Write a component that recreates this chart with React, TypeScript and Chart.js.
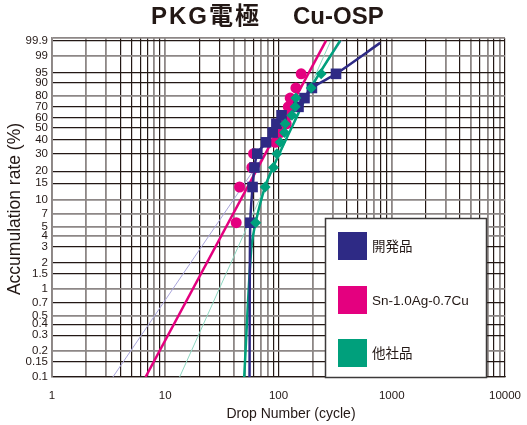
import { useEffect, useRef } from 'react';
import { Chart, registerables } from 'chart.js';

Chart.register(...registerables);

// ---------- text ----------
const titleLeft = 'PKG電極';
const titleRight = 'Cu-OSP';
const xAxisTitle = 'Drop Number (cycle)';
const yAxisTitle = 'Accumulation rate (%)';
const seriesNames = ['開発品', 'Sn-1.0Ag-0.7Cu', '他社品'];

// ---------- axes ----------
const yTickPercents = [0.1, 0.15, 0.2, 0.3, 0.4, 0.5, 0.7, 1, 1.5, 2, 3, 4, 5, 7, 10, 15, 20, 30, 40, 50, 60, 70, 80, 90, 95, 99, 99.9];
const yTickLabels = ['0.1', '0.15', '0.2', '0.3', '0.4', '0.5', '0.7', '1', '1.5', '2', '3', '4', '5', '7', '10', '15', '20', '30', '40', '50', '60', '70', '80', '90', '95', '99', '99.9'];
const xTickLabels = ['1', '10', '100', '1000', '10000'];

// ---------- data (cycles vs. cumulative %) ----------
const rankPercents = [5.6, 13.7, 21.8, 29.8, 37.9, 46.0, 54.0, 62.1, 70.2, 78.2, 86.3, 94.4];
const devCycles = [56.3, 59.0, 61.4, 65.0, 77.6, 88.8, 95.8, 106.4, 150.2, 169.6, 197.2, 322];
const snCycles = [42.3, 45.3, 58.2, 60.2, 93.5, 103.5, 116.9, 120.1, 122.0, 126.9, 142.4, 158.6];
const otherCycles = [62.9, 76.2, 90.2, 96.8, 103.5, 113.0, 114.6, 131.3, 140.4, 142.4, 194.4, 238.2];

const devCurveCycles = [55.5, 56.3, 59.0, 61.4, 65.0, 77.6, 88.8, 95.8, 106.4, 150.2, 169.6, 197.2, 322, 790];
const devCurvePercents = [0.1, 5.6, 13.7, 21.8, 29.8, 37.9, 46.0, 54.0, 62.1, 70.2, 78.2, 86.3, 94.4, 99.85];
const otherCurveCycles = [49.8, 57.4, 63.2, 76.3, 90.3, 137, 192, 350];
const otherCurvePercents = [0.1, 2.8, 5.8, 13.9, 22.4, 55, 86.1, 99.9];
const snFitCycles = [6.7, 263];
const snFitPercents = [0.1, 99.9];
const devLinearCycles = [3.45, 362];
const devLinearPercents = [0.1, 99.9];
const otherLinearCycles = [13.4, 290];
const otherLinearPercents = [0.1, 99.9];

// ---------- style ----------
const BLUE = '#2e2a85';
const MAGENTA = '#e4007f';
const GREEN = '#00a07c';
const BLUE_THIN = '#a9a5dc';
const GREEN_THIN = '#8fd8c2';
const BLACK = '#231815';
const GRAY = '#8d8786';
const FONT = '"Liberation Sans", Arial, "Noto Sans CJK JP", sans-serif';

const weib = (p: number) => Math.log(-Math.log(1 - p / 100));
const Y_MIN = weib(0.1);
const Y_MAX = 2.0;

const pts = (xs: number[], ps: number[]) => xs.map((x, i) => ({ x, y: weib(ps[i]) }));

// grid colour patterns (true = gray)
const yGray = [false, false, true, false, false, true, false, true, false, false, false, true, true, true, true, false, false, false, false, false, false, false, true, false, false, true, false, true];
const xGrayDigits = [
  [true, true, true, false, false, false, false, true, false],
  [true, false, false, true, true, false, true, true, false],
  [false, true, true, false, false, false, true, false, false],
  [true, false, true, false, true, false, true, false, true],
];

const xTickValues: number[] = [];
const xTickGray: boolean[] = [];
for (let d = 0; d < 4; d++) {
  for (let k = 1; k <= 9; k++) {
    xTickValues.push(k * Math.pow(10, d));
    xTickGray.push(xGrayDigits[d][k - 1]);
  }
}
xTickValues.push(10000);
xTickGray.push(false);

const decorPlugin = {
  id: 'decor',
  afterDraw(chart: any) {
    const ctx = chart.ctx;
    ctx.save();
    ctx.fillStyle = BLACK;
    ctx.textBaseline = 'middle';
    // title
    ctx.font = `bold 24px ${FONT}`;
    ctx.textAlign = 'left';
    try { ctx.letterSpacing = '2px'; } catch (e) { /* ignore */ }
    ctx.fillText(titleLeft, 151, 17);
    try { ctx.letterSpacing = '0px'; } catch (e) { /* ignore */ }
    ctx.fillText(titleRight, 293, 17);
    // axis titles
    ctx.font = `14px ${FONT}`;
    ctx.textAlign = 'center';
    ctx.fillText(xAxisTitle, 291, 414);
    ctx.save();
    ctx.translate(15, 209);
    ctx.rotate(-Math.PI / 2);
    ctx.font = `17.5px ${FONT}`;
    ctx.fillText(yAxisTitle, 0, 0);
    ctx.restore();
    // legend
    ctx.fillStyle = '#ffffff';
    ctx.fillRect(325, 218, 162, 160);
    ctx.strokeStyle = '#3c3a3a';
    ctx.lineWidth = 1.5;
    ctx.strokeRect(325.5, 218.5, 161, 159);
    const colors = [BLUE, MAGENTA, GREEN];
    const centers = [246, 300, 353];
    ctx.font = `13.5px ${FONT}`;
    ctx.textAlign = 'left';
    for (let i = 0; i < 3; i++) {
      ctx.fillStyle = colors[i];
      ctx.fillRect(338, centers[i] - 14, 29, 28);
      ctx.fillStyle = BLACK;
      ctx.fillText(seriesNames[i], 372, centers[i] + 1);
    }
    ctx.restore();
  },
};

export default function App() {
  const ref = useRef<HTMLCanvasElement | null>(null);
  useEffect(() => {
    if (!ref.current) return;
    const chart = new Chart(ref.current, {
      type: 'scatter',
      data: {
        datasets: [
          { label: seriesNames[2], data: pts(otherCycles, rankPercents), pointStyle: 'rectRot', pointRadius: 5.5, backgroundColor: GREEN, borderColor: GREEN, borderWidth: 0, order: 0 },
          { label: seriesNames[0], data: pts(devCycles, rankPercents), pointStyle: 'rect', pointRadius: 7.5, backgroundColor: BLUE, borderColor: BLUE, borderWidth: 0, order: 1 },
          { label: seriesNames[1], data: pts(snCycles, rankPercents), pointStyle: 'circle', pointRadius: 5.5, backgroundColor: MAGENTA, borderColor: MAGENTA, borderWidth: 0, order: 2 },
          { label: 'dev curve', data: pts(devCurveCycles, devCurvePercents), showLine: true, pointRadius: 0, borderColor: BLUE, borderWidth: 2.5, tension: 0.3, order: 3 },
          { label: 'sn fit', data: pts(snFitCycles, snFitPercents), showLine: true, pointRadius: 0, borderColor: MAGENTA, borderWidth: 2.5, order: 4 },
          { label: 'other curve', data: pts(otherCurveCycles, otherCurvePercents), showLine: true, pointRadius: 0, borderColor: GREEN, borderWidth: 2.5, tension: 0.3, order: 5 },
          { label: 'dev linear', data: pts(devLinearCycles, devLinearPercents), showLine: true, pointRadius: 0, borderColor: BLUE_THIN, borderWidth: 1, order: 6 },
          { label: 'other linear', data: pts(otherLinearCycles, otherLinearPercents), showLine: true, pointRadius: 0, borderColor: GREEN_THIN, borderWidth: 1, order: 7 },
        ],
      },
      options: {
        animation: false,
        responsive: false,
        devicePixelRatio: 1,
        layout: { padding: { left: 0, top: 38, right: 22, bottom: 0 } },
        plugins: { legend: { display: false }, tooltip: { enabled: false }, title: { display: false } },
        scales: {
          x: {
            type: 'logarithmic',
            min: 1,
            max: 10000,
            afterFit: (s: any) => { s.height = 48; s.paddingLeft = 0; s.paddingRight = 0; },
            afterBuildTicks: (s: any) => { s.ticks = xTickValues.map((v) => ({ value: v })); },
            ticks: {
              autoSkip: false,
              maxRotation: 0,
              padding: 12,
              color: BLACK,
              font: { family: FONT, size: 11.5 },
              callback: (v: any) => (xTickLabels.includes(String(v)) ? String(v) : ''),
            },
            grid: {
              drawTicks: false,
              color: (c: any) => (xTickGray[c.index] ? GRAY : BLACK),
              lineWidth: (c: any) => (xTickGray[c.index] ? 1.8 : 1.2),
            },
            border: { display: true, color: BLACK, width: 1.2 },
          },
          y: {
            type: 'linear',
            min: Y_MIN,
            max: Y_MAX,
            afterFit: (s: any) => { s.width = 52; s.paddingTop = 0; s.paddingBottom = 0; },
            afterBuildTicks: (s: any) => {
              s.ticks = yTickPercents.map((p) => ({ value: weib(p) })).concat([{ value: Y_MAX }]);
            },
            ticks: {
              autoSkip: false,
              padding: 4,
              color: BLACK,
              font: { family: FONT, size: 11.5 },
              callback: (_v: any, i: number) => (i < yTickLabels.length ? yTickLabels[i] : ''),
            },
            grid: {
              drawTicks: false,
              color: (c: any) => (yGray[c.index] ? GRAY : BLACK),
              lineWidth: (c: any) => (yGray[c.index] ? 1.8 : 1.2),
            },
            border: { display: true, color: GRAY, width: 1.8 },
          },
        },
      } as any,
      plugins: [decorPlugin],
    });
    return () => chart.destroy();
  }, []);
  return (
    <div style={{ position: 'fixed', left: 0, top: 0, width: 527, height: 425, background: '#fff' }}>
      <canvas ref={ref} width={527} height={425} style={{ display: 'block' }} />
    </div>
  );
}
